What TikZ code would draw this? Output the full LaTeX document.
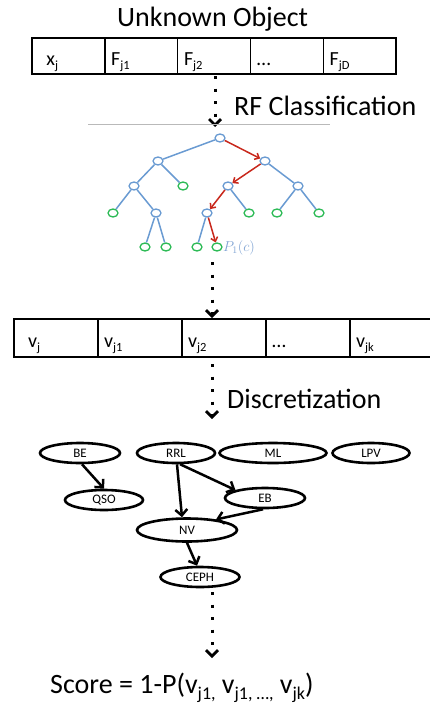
\documentclass[tikz,border=0pt]{standalone}
\usepackage{fontspec}
\setmainfont{Carlito}
\usetikzlibrary{arrows.meta,shapes.geometric}
\definecolor{treeblue}{HTML}{6A9BD2}
\definecolor{treegreen}{HTML}{2EBB57}
\definecolor{treered}{HTML}{C8281C}
\definecolor{plabel}{HTML}{7FA3D3}
\newcommand\boxsub[1]{\raisebox{-4pt}{\fontsize{12.5}{12.5}\selectfont #1}}
\newcommand\scoresub[1]{\raisebox{-6pt}{\fontsize{18}{18}\selectfont #1}}
\tikzset{
  bigtext/.style={font=\fontsize{28}{30}\selectfont, inner sep=0pt},
  cellA/.style={draw, line width=1.4pt, minimum width=72.8pt, minimum height=36pt,
     inner xsep=6pt, inner ysep=0pt, text width=60pt, align=left,
     text height=18pt, text depth=0pt, font=\fontsize{20}{21}\selectfont},
  cellB/.style={cellA, minimum width=84pt, minimum height=38pt, text width=72pt},
  tinner/.style={ellipse, draw=treeblue, fill=white, line width=1.3pt, minimum width=10pt, minimum height=8pt, inner sep=0pt},
  tleaf/.style={tinner, draw=treegreen},
  tedge/.style={draw=treeblue, line width=1.5pt},
  redge/.style={draw=treered, line width=1.5pt, -{Straight Barb[length=4pt,width=7pt]}},
  bn/.style={ellipse, draw, line width=2.6pt, inner sep=0pt, minimum height=20pt, font=\fontsize{13}{13}\selectfont},
  bnedge/.style={line width=2.5pt, -{Straight Barb[length=6pt,width=12pt]}},
  dotarrow/.style={line width=3pt, dash pattern=on 3pt off 9.5pt,
     -{Straight Barb[length=6pt,width=12pt,line width=2.8pt]}},
}
\begin{document}
\begin{tikzpicture}[x=1pt,y=-1pt]
\useasboundingbox (0,0) rectangle (430,704);
% title
\node[bigtext, anchor=base west] (title) at (117,26) {Unknown Object};
% box 1
\foreach \i/\t in {1/{\hspace{8pt}x\boxsub{j}},2/{F\boxsub{j1}},3/{F\boxsub{j2}},4/{…},5/{F\boxsub{jD}}}{
  \node[cellA] (a\i) at ({32+72.8*(\i-0.5)},56) {\t};
}
\coordinate (a1s) at (215,76);
\coordinate (a1e) at (215,127);
\draw[dotarrow] (a1s) -- (a1e);
\node[bigtext, anchor=base west] (rf) at (234,115) {RF Classification};
% gray line
\coordinate (gl1) at (88,124);
\coordinate (gl2) at (330,124);
\draw[gray!55, line width=0.8pt] (gl1) -- (gl2);
% tree
\node[tinner] (t0) at (220,138) {};
\node[tinner] (tL) at (158,161) {};
\node[tinner] (tR) at (265,161) {};
\node[tinner] (tLL) at (134,186) {};
\node[tleaf]  (tLR) at (183,186) {};
\node[tinner] (tRL) at (228,186) {};
\node[tinner] (tRR) at (298,186) {};
\node[tleaf]  (tLLL) at (113,213) {};
\node[tinner] (tLLR) at (156,213) {};
\node[tinner] (tRLL) at (207,213) {};
\node[tleaf]  (tRLR) at (249,213) {};
\node[tleaf]  (tRRL) at (277,213) {};
\node[tleaf]  (tRRR) at (319,213) {};
\node[tleaf]  (q1) at (145,247) {};
\node[tleaf]  (q2) at (166,247) {};
\node[tleaf]  (q3) at (197,247) {};
\node[tleaf]  (q4) at (217,247) {};
\node[anchor=west, text=plabel, inner sep=0pt, font=\fontsize{14}{14}\selectfont] (pl) at (223,248) {$P_1(c)$};
\draw[tedge] (t0) -- (tL);
\draw[tedge] (tL) -- (tLL);
\draw[tedge] (tL) -- (tLR);
\draw[tedge] (tR) -- (tRR);
\draw[tedge] (tLL) -- (tLLL);
\draw[tedge] (tLL) -- (tLLR);
\draw[tedge] (tRL) -- (tRLR);
\draw[tedge] (tRR) -- (tRRL);
\draw[tedge] (tRR) -- (tRRR);
\draw[tedge] (tLLR) -- (q1);
\draw[tedge] (tLLR) -- (q2);
\draw[tedge] (tRLL) -- (q3);
\draw[redge] (t0) -- (tR);
\draw[redge] (tR) -- (tRL);
\draw[redge] (tRL) -- (tRLL);
\draw[redge] (tRLL) -- (q4);
% arrow 2
\coordinate (a2s) at (212,262);
\coordinate (a2e) at (212,318);
\draw[dotarrow] (a2s) -- (a2e);
% box 2
\foreach \i/\t in {1/{\hspace{8pt}v\boxsub{j}},2/{v\boxsub{j1}},3/{v\boxsub{j2}},4/{…},5/{v\boxsub{jk}}}{
  \node[cellB] (b\i) at ({14+84*(\i-0.5)},338) {\t};
}
\coordinate (a3s) at (212,364);
\coordinate (a3e) at (212,419);
\draw[dotarrow] (a3s) -- (a3e);
\node[bigtext, anchor=base west] (disc) at (227,408) {Discretization};
% Bayesian network
\node[bn, minimum width=80pt] (BE) at (80,453) {BE};
\node[bn, minimum width=78pt] (RRL) at (176,453) {RRL};
\node[bn, minimum width=107pt] (ML) at (273,453) {ML};
\node[bn, minimum width=77pt] (LPV) at (371,453) {LPV};
\node[bn, minimum width=78pt] (QSO) at (104,500) {QSO};
\node[bn, minimum width=80pt] (EB) at (265,498) {EB};
\node[bn, minimum width=100pt, minimum height=23pt] (NV) at (187,530) {NV};
\node[bn, minimum width=79pt] (CEPH) at (200,577) {CEPH};
\draw[bnedge] (BE.-80) -- (QSO.north);
\draw[bnedge] (RRL.-85) -- ([xshift=-5pt]NV.north);
\draw[bnedge] (RRL.-70) -- (EB.165);
\draw[bnedge] (EB.-100) -- (NV.20);
\draw[bnedge] (NV.south) -- ([xshift=-3pt]CEPH.north);
% arrow 4
\coordinate (a4s) at (212,592);
\coordinate (a4e) at (212,658);
\draw[dotarrow] (a4s) -- (a4e);
% score
\node[anchor=base west, inner sep=0pt, font=\fontsize{28}{30}\selectfont] (score) at (50,693)
  {Score = 1-P(v\scoresub{j1,} v\scoresub{j1, …,} v\scoresub{jk})};
\end{tikzpicture}
\end{document}
